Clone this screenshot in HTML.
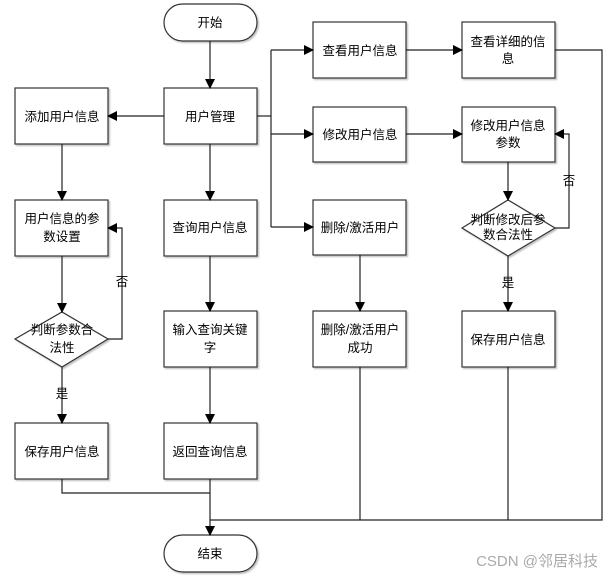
<!DOCTYPE html>
<html><head><meta charset="utf-8"><style>
body{margin:0;background:#fff}
svg text{font-family:"Liberation Sans","Noto Sans CJK SC",sans-serif;font-size:12.5px;fill:#000}
</style></head><body>
<svg width="609" height="579" viewBox="0 0 609 579" xmlns="http://www.w3.org/2000/svg">
<defs>
<marker id="a" markerWidth="10" markerHeight="10" refX="9" refY="5" orient="auto" markerUnits="userSpaceOnUse"><path d="M0,0 L10,5 L0,10 z" fill="#000"/></marker>
<filter id="s"><feDropShadow dx="1.5" dy="1.5" stdDeviation="0.8" flood-color="#999" flood-opacity="0.6"/></filter>
</defs>
<g fill="#fff" stroke="#333" stroke-width="1.2" filter="url(#s)">
<rect x="164" y="4" width="93" height="37" rx="18.5"/>
<rect x="164" y="535" width="93" height="37" rx="18.5"/>
<rect x="15" y="88" width="93" height="56"/>
<rect x="164" y="88" width="93" height="56"/>
<rect x="15" y="200" width="93" height="56"/>
<polygon points="15,339 62,312 108,339 62,367"/>
<rect x="15" y="423" width="93" height="56"/>
<rect x="164" y="200" width="93" height="56"/>
<rect x="164" y="311" width="93" height="56"/>
<rect x="164" y="423" width="93" height="56"/>
<rect x="313" y="22" width="93" height="56"/>
<rect x="313" y="107" width="93" height="55"/>
<rect x="313" y="200" width="93" height="55"/>
<rect x="313" y="311" width="93" height="56"/>
<rect x="462" y="22" width="93" height="56"/>
<rect x="462" y="107" width="93" height="55"/>
<polygon points="462,228 508,200 555,228 508,256"/>
<rect x="462" y="311" width="93" height="56"/>
</g>
<g stroke="#222" stroke-width="1.2" fill="none">
<path d="M210,41 V88" marker-end="url(#a)"/>
<path d="M164,116 H108" marker-end="url(#a)"/>
<path d="M210,144 V200" marker-end="url(#a)"/>
<path d="M62,144 V200" marker-end="url(#a)"/>
<path d="M62,256 V312" marker-end="url(#a)"/>
<path d="M108,339 H122 V228 H108" marker-end="url(#a)"/>
<path d="M62,367 V423" marker-end="url(#a)"/>
<path d="M210,256 V311" marker-end="url(#a)"/>
<path d="M210,367 V423" marker-end="url(#a)"/>
<path d="M210,479 V535" marker-end="url(#a)"/>
<path d="M62,479 V493 H210"/>
<path d="M257,116 H271"/>
<path d="M271,50 V227"/>
<path d="M271,50 H313" marker-end="url(#a)"/>
<path d="M271,134 H313" marker-end="url(#a)"/>
<path d="M271,227 H313" marker-end="url(#a)"/>
<path d="M406,50 H462" marker-end="url(#a)"/>
<path d="M406,134 H462" marker-end="url(#a)"/>
<path d="M360,255 V311" marker-end="url(#a)"/>
<path d="M508,162 V200" marker-end="url(#a)"/>
<path d="M555,228 H569 V134 H555" marker-end="url(#a)"/>
<path d="M508,256 V311" marker-end="url(#a)"/>
<path d="M555,50 H602 V520 H210"/>
<path d="M360,367 V520"/>
<path d="M508,367 V520"/>
</g>
<g text-anchor="middle">
<text x="210" y="27">开始</text>
<text x="210" y="558">结束</text>
<text x="62" y="121">添加用户信息</text>
<text x="210" y="121">用户管理</text>
<text x="62" y="223">用户信息的参</text>
<text x="62" y="241">数设置</text>
<text x="62" y="334" font-size="12">判断参数合</text>
<text x="62" y="352" font-size="12">法性</text>
<text x="62" y="456">保存用户信息</text>
<text x="210" y="232">查询用户信息</text>
<text x="210" y="334">输入查询关键</text>
<text x="210" y="352">字</text>
<text x="210" y="456">返回查询信息</text>
<text x="360" y="55">查看用户信息</text>
<text x="360" y="139">修改用户信息</text>
<text x="360" y="232">删除/激活用户</text>
<text x="360" y="334">删除/激活用户</text>
<text x="360" y="352">成功</text>
<text x="508" y="46">查看详细的信</text>
<text x="508" y="63">息</text>
<text x="508" y="130">修改用户信息</text>
<text x="508" y="147">参数</text>
<text x="508" y="224" font-size="11">判断修改后参</text>
<text x="508" y="239" font-size="11">数合法性</text>
<text x="508" y="344">保存用户信息</text>
<text x="122" y="286" font-size="11">否</text>
<text x="569" y="185" font-size="11">否</text>
<text x="62" y="398" font-size="11">是</text>
<text x="508" y="287" font-size="11">是</text>
</g>
<text x="598" y="566" text-anchor="end" style="font-size:15px;fill:#aaa">CSDN @邻居科技</text>
</svg>
</body></html>
